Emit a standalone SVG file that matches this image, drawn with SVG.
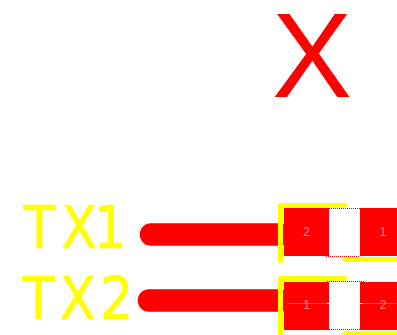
<svg xmlns="http://www.w3.org/2000/svg" width="397" height="335" viewBox="0 0 397 335">
<style>
.silk{fill:none;stroke:#ffff00;stroke-width:5;stroke-linecap:round;stroke-linejoin:round}
.lbl{font-family:"DejaVu Sans",sans-serif;font-size:58px;fill:#ffff00;stroke:#ffff00;stroke-width:.5;stroke-linejoin:round}
.pad{fill:#ff0000}
.num{font-family:"Liberation Sans",Arial,sans-serif;font-size:12px;fill:#ff8a8a;text-anchor:middle}
.dot{fill:none;stroke:#ff0000;stroke-width:1;stroke-dasharray:1 1}
.trace{fill:none;stroke:#ff0000;stroke-width:22.5;stroke-linecap:round}
</style>
<rect width="397" height="335" fill="#ffffff"/>
<text id="mark" x="272" y="97" font-family="Liberation Sans, Arial, sans-serif" font-size="120" fill="#ff0000">X</text>
<g id="connectors">
<path class="trace" d="M151 234.500H280"/>
<path class="trace" d="M149 300.500H280"/>
</g>
<g id="tx1">
<text class="lbl" transform="translate(0 248) scale(.9 1)" x="26 68 104" y="0">TX1</text>
</g>
<g id="tx2">
<text class="lbl" transform="translate(0 319) scale(.9 1)" x="25 66.500 111" y="0">TX2</text>
</g>
<g id="part1">
<rect class="pad" x="284" y="208" width="45" height="48"/>
<rect class="pad" x="360" y="208" width="37" height="48"/>
<path class="dot" d="M329 208.500H364M326 256.500H360"/>
<path class="silk" d="M280.500 260.500V205.500H344.500M345 259.500H397"/>
<text class="num" x="306.500" y="236">2</text>
<text class="num" x="383" y="236">1</text>
</g>
<g id="part2">
<rect class="pad" x="284" y="282" width="45" height="48"/>
<rect class="pad" x="360" y="282" width="37" height="48"/>
<path class="dot" d="M327 281.500H364M329 329.500H360"/>
<path d="M287 303.500H329M363 303.500H397" fill="none" stroke="#c06868" stroke-width="1"/>
<path d="M327 303.500H329M360 303.500H363" fill="none" stroke="#ffffff" stroke-width="1"/>
<path class="silk" d="M280.500 340V278.500H344.500M345 333.500H397"/>
<text class="num" x="306.500" y="309">1</text>
<text class="num" x="383" y="309">2</text>
</g>
</svg>
